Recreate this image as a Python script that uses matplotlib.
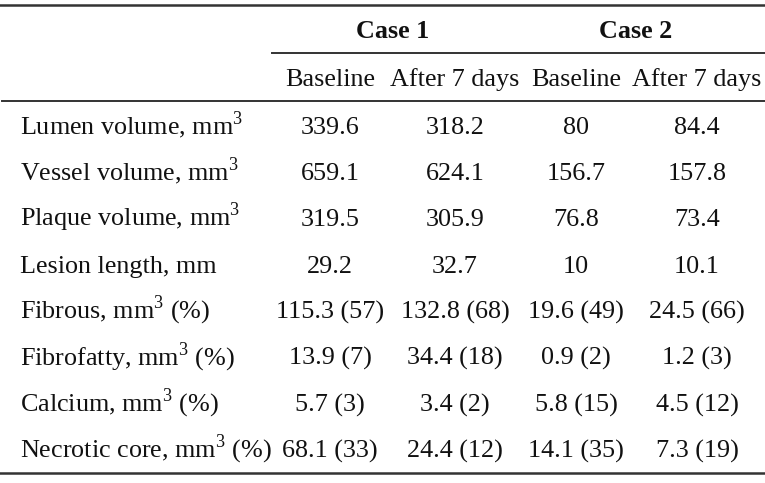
import matplotlib
matplotlib.use("Agg")
from matplotlib import pyplot as plt

plt.rcParams['font.family'] = ['Liberation Serif', 'DejaVu Serif']
plt.rcParams['mathtext.fontset'] = 'custom'
plt.rcParams['mathtext.rm'] = 'Liberation Serif'

cases = ["Case 1", "Case 2"]
times = ["Baseline", "After 7 days", "Baseline", "After 7 days"]
rows = ["Lumen volume, mm$^{\\mathrm{3}}$",
        "Vessel volume, mm$^{\\mathrm{3}}$",
        "Plaque volume, mm$^{\\mathrm{3}}$",
        "Lesion length, mm",
        "Fibrous, mm$^{\\mathrm{3}}$ (%)",
        "Fibrofatty, mm$^{\\mathrm{3}}$ (%)",
        "Calcium, mm$^{\\mathrm{3}}$ (%)",
        "Necrotic core, mm$^{\\mathrm{3}}$ (%)"]
case1_base = ["339.6", "659.1", "319.5", "29.2", "115.3 (57)", "13.9 (7)", "5.7 (3)", "68.1 (33)"]
case1_7d = ["318.2", "624.1", "305.9", "32.7", "132.8 (68)", "34.4 (18)", "3.4 (2)", "24.4 (12)"]
case2_base = ["80", "156.7", "76.8", "10", "19.6 (49)", "0.9 (2)", "5.8 (15)", "14.1 (35)"]
case2_7d = ["84.4", "157.8", "73.4", "10.1", "24.5 (66)", "1.2 (3)", "4.5 (12)", "7.3 (19)"]

fig = plt.figure(figsize=(7.65, 4.83), dpi=100)
ax = fig.add_axes([0, 0, 1, 1])
ax.set_xlim(0, 765)
ax.set_ylim(483, 0)
ax.axis('off')

fs = 18.8
col_x = [330, 455, 576, 697]
case_x = [393, 636]
line_c = '#333333'
txt_c = '#111111'

ax.plot([0, 765], [5, 5], color=line_c, lw=1.8)
ax.plot([272, 765], [53, 53], color=line_c, lw=1.4)
ax.plot([2, 765], [101, 101], color=line_c, lw=1.4)
ax.plot([0, 765], [473, 473], color=line_c, lw=1.8)

for c, x in zip(cases, case_x):
    ax.text(x, 38, c, ha='center', va='baseline', fontsize=fs, fontweight='bold', color=txt_c)
for t, x in zip(times, col_x):
    ax.text(x, 86, t, ha='center', va='baseline', fontsize=fs, color=txt_c)

cols = [case1_base, case1_7d, case2_base, case2_7d]
for i, r in enumerate(rows):
    y = 134 + i * 46.2
    ax.text(20, y, r, ha='left', va='baseline', fontsize=fs, color=txt_c)
    for col, x in zip(cols, col_x):
        ax.text(x, y, col[i], ha='center', va='baseline', fontsize=fs, color=txt_c)

fig.savefig("out.png", dpi=100)
